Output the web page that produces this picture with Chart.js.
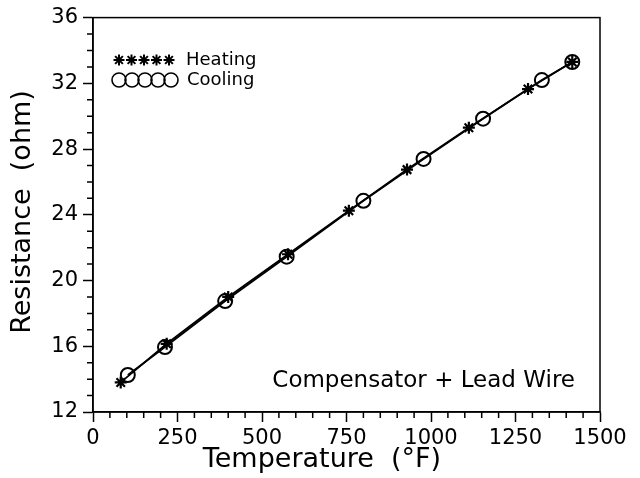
<!DOCTYPE html>
<html lang="en">
<head>
    <meta charset="UTF-8">
    <title>Resistance vs Temperature</title>
    <script src="https://cdn.jsdelivr.net/npm/chart.js"></script>
    <style>
        body { margin: 0; background: #fff; }
    </style>
</head>
<body>
    <canvas id="chart" width="640" height="478"></canvas>

    <script>
        // values
        var heatTemp = [82, 218, 400, 577, 757, 929, 1112, 1287, 1418];
        var heatRes = [13.8, 16.15, 19.0, 21.6, 24.25, 26.75, 29.3, 31.65, 33.3];
        var coolTemp = [103, 213, 391, 573, 800, 978, 1154, 1328, 1418];
        var coolRes = [14.25, 15.95, 18.75, 21.45, 24.85, 27.4, 29.85, 32.2, 33.3];
        var seriesNames = ['Heating', 'Cooling'];
        var xTitle = 'Temperature  (\u00B0F)';
        var yTitle = 'Resistance  (ohm)';
        var note = 'Compensator + Lead Wire';

        var FONT = '"DejaVu Sans", sans-serif';

        function toPoints(xs, ys) {
            return xs.map(function (x, i) { return { x: x, y: ys[i] }; });
        }

        // border box, minor ticks, axis titles, legend and note
        var decor = {
            id: 'decor',
            afterDraw: function (chart) {
                var ctx = chart.ctx;
                var a = chart.chartArea;
                var xs = chart.scales.x, ys = chart.scales.y;
                ctx.save();
                ctx.strokeStyle = '#000';
                ctx.lineWidth = 1.5;
                ctx.strokeRect(a.left, a.top, a.right - a.left, a.bottom - a.top);

                // minor ticks
                ctx.beginPath();
                for (var v = 13; v < 36; v++) {
                    if (v % 4 === 0) continue;
                    var py = ys.getPixelForValue(v);
                    ctx.moveTo(a.left - 6, py);
                    ctx.lineTo(a.left, py);
                }
                for (var t = 50; t < 1500; t += 50) {
                    if (t % 250 === 0) continue;
                    var px = xs.getPixelForValue(t);
                    ctx.moveTo(px, a.bottom);
                    ctx.lineTo(px, a.bottom + 6);
                }
                ctx.stroke();

                ctx.fillStyle = '#000';
                // axis titles
                ctx.font = '27px ' + FONT;
                ctx.textAlign = 'center';
                ctx.textBaseline = 'middle';
                ctx.fillText(xTitle, 322, 460);
                ctx.save();
                ctx.translate(23, 212);
                ctx.rotate(-Math.PI / 2);
                ctx.fillText(yTitle, 0, 0);
                ctx.restore();

                // note
                ctx.font = '23px ' + FONT;
                ctx.textAlign = 'right';
                ctx.fillText(note, 575, 381);

                // legend
                var ds = chart.data.datasets;
                ctx.font = '18px ' + FONT;
                ctx.textAlign = 'left';
                for (var i = 0; i < 5; i++) {
                    ctx.lineWidth = 2;
                    Chart.helpers.drawPoint(ctx, { pointStyle: 'star', radius: 5.5, rotation: 0, borderWidth: 2 }, 119 + i * 12.5, 60);
                    ctx.lineWidth = 1.6;
                    ctx.beginPath();
                    ctx.arc(119 + i * 13, 80, 7, 0, Math.PI * 2);
                    ctx.stroke();
                }
                ctx.fillText(ds[0].label, 186, 60);
                ctx.fillText(ds[1].label, 187, 80);
                ctx.restore();
            }
        };

        var ctx = document.getElementById('chart').getContext('2d');
        var chart = new Chart(ctx, {
            type: 'scatter',
            data: {
                datasets: [{
                    label: seriesNames[0],
                    data: toPoints(heatTemp, heatRes),
                    showLine: true,
                    borderColor: '#000',
                    borderWidth: 1.8,
                    pointStyle: 'star',
                    pointRadius: 6,
                    pointBorderWidth: 2.2,
                    pointBorderColor: '#000',
                    pointBackgroundColor: '#000'
                }, {
                    label: seriesNames[1],
                    data: toPoints(coolTemp, coolRes),
                    showLine: true,
                    borderColor: '#000',
                    borderWidth: 1.8,
                    pointStyle: 'circle',
                    pointRadius: 7,
                    pointBorderWidth: 2,
                    pointBorderColor: '#000',
                    pointBackgroundColor: 'rgba(0,0,0,0)'
                }]
            },
            options: {
                responsive: false,
                animation: false,
                layout: { padding: { left: 0, top: 16, right: 40, bottom: 0 } },
                plugins: {
                    legend: { display: false },
                    tooltip: { enabled: false }
                },
                scales: {
                    x: {
                        type: 'linear',
                        min: 0,
                        max: 1500,
                        ticks: {
                            stepSize: 250,
                            color: '#000',
                            padding: 4,
                            maxRotation: 0,
                            font: { family: FONT, size: 21 },
                            callback: function (v) { return String(v); }
                        },
                        grid: { drawOnChartArea: false, tickLength: 10, tickWidth: 1.5, tickColor: '#000' },
                        border: { color: '#000', width: 1.5 },
                        afterFit: function (s) { s.height = 66; }
                    },
                    y: {
                        min: 12,
                        max: 36,
                        ticks: {
                            stepSize: 4,
                            color: '#000',
                            padding: 5,
                            font: { family: FONT, size: 21 }
                        },
                        grid: { drawOnChartArea: false, tickLength: 10, tickWidth: 1.5, tickColor: '#000' },
                        border: { color: '#000', width: 1.5 },
                        afterFit: function (s) { s.width = 93; }
                    }
                }
            },
            plugins: [decor]
        });
    </script>
</body>
</html>
